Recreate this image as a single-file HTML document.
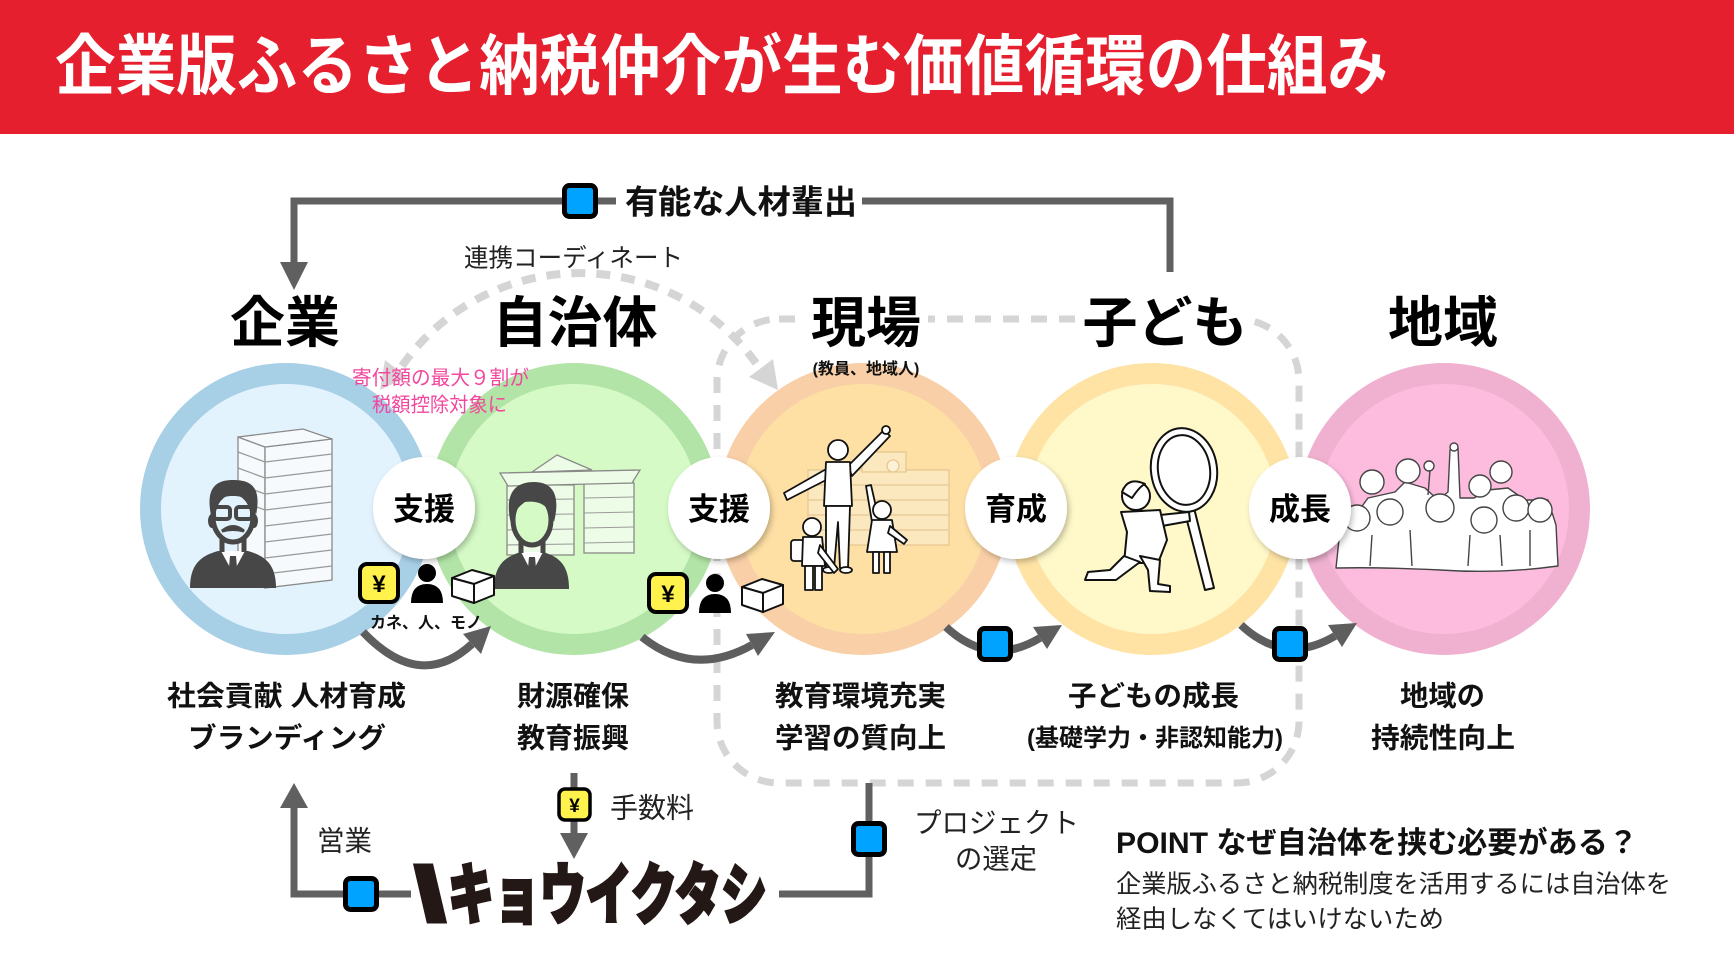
<!DOCTYPE html>
<html><head><meta charset="utf-8">
<style>
html,body{margin:0;padding:0;background:#fff;}
svg{display:block}
text{font-family:"Liberation Sans","Noto Sans CJK JP",sans-serif;}
</style></head><body>
<svg width="1734" height="972" viewBox="0 0 1734 972" xmlns="http://www.w3.org/2000/svg">
<defs>
<filter id="sh" x="-30%" y="-30%" width="160%" height="160%"><feDropShadow dx="2" dy="3" stdDeviation="3" flood-color="#000" flood-opacity="0.25"/></filter>
</defs>
<rect width="1734" height="972" fill="#fff"/>
<!-- header -->
<rect width="1734" height="134" fill="#E61F2E"/>
<text x="55" y="89" font-size="66" font-weight="700" fill="#fff" textLength="1333" lengthAdjust="spacingAndGlyphs">企業版ふるさと納税仲介が生む価値循環の仕組み</text>

<!-- dashed rounded rect -->
<rect x="717" y="319" width="582" height="464" rx="62" fill="none" stroke="#D5D5D5" stroke-width="7" stroke-dasharray="16 12"/>
<!-- dashed arc -->
<path d="M 402 366 A 217 217 0 0 1 758 366" fill="none" stroke="#D5D5D5" stroke-width="8" stroke-dasharray="14 11"/>
<polygon points="778,390 749,377 773,359" fill="#D5D5D5"/>
<polygon points="380,390 407,377 385,360" fill="#D5D5D5"/>

<!-- top connector -->
<path d="M 1170 272 V 201 H 294 V 264" fill="none" stroke="#606060" stroke-width="7"/>
<polygon points="280,262 308,262 294,290" fill="#606060"/>
<rect x="616" y="180" width="246" height="44" fill="#fff"/>
<rect x="564.5" y="185.5" width="31" height="31" rx="5" fill="#00A3FF" stroke="#000" stroke-width="5"/>
<text x="625" y="213.5" font-size="33" font-weight="700" fill="#111" textLength="232" lengthAdjust="spacingAndGlyphs">有能な人材輩出</text>
<text x="464" y="266.5" font-size="25" fill="#222" textLength="219" lengthAdjust="spacingAndGlyphs">連携コーディネート</text>

<!-- titles with white bg -->
<rect x="805" y="290" width="123" height="62" fill="#fff"/>
<rect x="1079" y="290" width="173" height="62" fill="#fff"/>
<text x="285" y="342" font-size="55" font-weight="700" fill="#000" text-anchor="middle">企業</text>
<text x="575" y="342" font-size="55" font-weight="700" fill="#000" text-anchor="middle">自治体</text>
<text x="866" y="342" font-size="55" font-weight="700" fill="#000" text-anchor="middle">現場</text>
<text x="1165" y="342" font-size="55" font-weight="700" fill="#000" text-anchor="middle">子ども</text>
<text x="1443" y="342" font-size="55" font-weight="700" fill="#000" text-anchor="middle">地域</text>

<!-- circles -->
<circle cx="286" cy="509" r="146" fill="#A7CFE6"/><circle cx="286" cy="509" r="125" fill="#E3F3FD"/>
<circle cx="574" cy="509" r="146" fill="#B1E4A6"/><circle cx="574" cy="509" r="125" fill="#D5FAC6"/>
<circle cx="863" cy="509" r="146" fill="#F9CFA7"/><circle cx="863" cy="509" r="125" fill="#FEDFA4"/>
<circle cx="1152" cy="509" r="146" fill="#FEE3A5"/><circle cx="1152" cy="509" r="125" fill="#FFF8C9"/>
<circle cx="1444" cy="509" r="146" fill="#EFB1CF"/><circle cx="1444" cy="509" r="125" fill="#FDBCDE"/>

<text x="866" y="374" font-size="16" font-weight="700" fill="#111" text-anchor="middle">(教員、地域人)</text>

<!-- blue: building + man -->
<g stroke="#8a8a8a" stroke-width="1.3" fill="#F7FAFC">
<polygon points="238,437 265,447 265,588 238,578"/>
<polygon points="265,447 332,439 332,580 265,588"/>
<polygon points="238,437 303,429 332,439 265,447"/>
</g>
<g stroke="#999" stroke-width="1.2">
<line x1="265" y1="462" x2="332" y2="454"/><line x1="265" y1="478" x2="332" y2="470"/>
<line x1="265" y1="494" x2="332" y2="486"/><line x1="265" y1="510" x2="332" y2="502"/>
<line x1="265" y1="526" x2="332" y2="518"/><line x1="265" y1="542" x2="332" y2="534"/>
<line x1="265" y1="558" x2="332" y2="550"/><line x1="265" y1="574" x2="332" y2="566"/>
<line x1="238" y1="452" x2="265" y2="462"/><line x1="238" y1="468" x2="265" y2="478"/>
<line x1="238" y1="484" x2="265" y2="494"/><line x1="238" y1="500" x2="265" y2="510"/>
</g>
<g>
<path d="M190 588 C190 565 200 556 218 551 L248 551 C266 556 276 565 276 588 Z" fill="#474747"/>
<polygon points="221,551 233,573 245,551" fill="#fff"/>
<polygon points="230,556 236,556 238,579 233,586 228,579" fill="#474747"/>
<path d="M222 536 L222 552 M244 536 L244 552" stroke="#474747" stroke-width="5"/>
<ellipse cx="212" cy="521" rx="4" ry="7" fill="#474747"/><ellipse cx="254" cy="521" rx="4" ry="7" fill="#474747"/>
<ellipse cx="233" cy="517" rx="20" ry="25" fill="#E3F3FD" stroke="#474747" stroke-width="5"/>
<path d="M211 515 C205 486 218 480 233 480 C250 480 262 486 256 515 C252 500 245 496 233 496 C221 496 214 500 211 515 Z" fill="#474747"/>
<rect x="214" y="507" width="16" height="12" rx="3" fill="none" stroke="#474747" stroke-width="4"/>
<rect x="236" y="507" width="16" height="12" rx="3" fill="none" stroke="#474747" stroke-width="4"/>
<path d="M222 531 Q233 522 244 531 Q233 528 222 531 Z" fill="#474747" stroke="#474747" stroke-width="3"/>
</g>

<!-- green: building + man -->
<g stroke="#8a8a8a" stroke-width="1.3" fill="#EDFCE6">
<rect x="507" y="485" width="67" height="70"/>
<rect x="584" y="483" width="50" height="70"/>
<polygon points="500,473 640,470 632,483 508,486"/>
<polygon points="532,472 557,455 592,470"/>
</g>
<g stroke="#9a9a9a" stroke-width="1.1">
<line x1="507" y1="500" x2="574" y2="499"/><line x1="507" y1="515" x2="574" y2="514"/><line x1="507" y1="530" x2="574" y2="529"/><line x1="507" y1="545" x2="574" y2="544"/>
<line x1="584" y1="498" x2="634" y2="497"/><line x1="584" y1="513" x2="634" y2="512"/><line x1="584" y1="528" x2="634" y2="527"/><line x1="584" y1="543" x2="634" y2="542"/>
</g>
<g>
<path d="M494 589 C494 566 504 557 521 552 L543 552 C560 557 569 566 569 589 Z" fill="#474747"/>
<polygon points="521,552 532,573 543,552" fill="#fff"/>
<polygon points="529,557 535,557 537,579 532,586 527,579" fill="#474747"/>
<path d="M521 538 L521 553 M543 538 L543 553" stroke="#474747" stroke-width="5"/>
<ellipse cx="532" cy="520" rx="19" ry="25" fill="#D5FAC6" stroke="#474747" stroke-width="5"/>
<path d="M511 524 C503 490 518 482 534 482 C552 482 561 494 554 522 C550 506 540 500 525 502 C518 507 513 513 511 524 Z" fill="#474747"/>
</g>

<!-- orange: school + people -->
<g stroke="#E6C890" stroke-width="1.3" fill="#FCE8BF">
<rect x="808" y="470" width="141" height="75"/>
<rect x="862" y="452" width="44" height="20"/>
<circle cx="893" cy="466" r="6" fill="#FDF1D8"/>
<line x1="808" y1="485" x2="949" y2="485"/><line x1="808" y1="500" x2="949" y2="500"/>
<line x1="808" y1="515" x2="949" y2="515"/><line x1="808" y1="530" x2="949" y2="530"/>
</g>
<g fill="#fff" stroke="#111" stroke-width="1.8" stroke-linejoin="round">
<polygon points="848,466 884,430 890,436 852,476"/>
<polygon points="828,468 784,493 787,500 830,478"/>
<polygon points="826,462 850,462 852,506 824,506"/>
<polygon points="826,506 850,506 848,568 840,568 838,522 834,568 826,568"/>
<ellipse cx="829" cy="570" rx="6" ry="3"/><ellipse cx="846" cy="570" rx="6" ry="3"/>
<circle cx="838" cy="450" r="10"/>
<circle cx="886" cy="430" r="4"/>
<rect x="791" y="540" width="13" height="21" rx="3"/>
<polygon points="803,537 822,537 825,566 802,566"/>
<polygon points="820,545 838,569 834,573 818,553"/>
<polygon points="805,566 813,566 813,590 805,590"/><polygon points="815,566 822,566 822,590 815,590"/>
<circle cx="812" cy="527" r="9"/>
<polygon points="872,522 866,486 871,485 879,520"/>
<polygon points="872,520 892,520 897,552 867,552"/>
<polygon points="890,526 907,540 904,544 888,533"/>
<polygon points="873,552 879,552 879,573 873,573"/><polygon points="884,552 890,552 890,573 884,573"/>
<circle cx="882" cy="510" r="9"/>
</g>

<!-- yellow: kid + magnifier -->
<g fill="#fff" stroke="#111" stroke-width="2" stroke-linejoin="round">
<polygon points="1184,509 1194,508 1214,588 1205,590"/>
<ellipse cx="1184" cy="470" rx="33" ry="42" transform="rotate(-8 1184 470)"/>
<ellipse cx="1184" cy="470" rx="26" ry="35" transform="rotate(-8 1184 470)"/>
<polygon points="1160,515 1189,512 1190,521 1162,526"/>
<polygon points="1121,512 1160,510 1167,540 1158,563 1124,563 1127,532"/>
<polygon points="1124,556 1110,570 1088,572 1085,580 1116,580 1140,562"/>
<polygon points="1140,556 1160,560 1158,584 1170,586 1170,592 1150,591 1148,570"/>
<circle cx="1136" cy="496" r="14"/>
<path d="M1122 492 Q1128 476 1145 484 Q1140 486 1132 498 Z" fill="#fff"/>
</g>

<!-- pink: crowd -->
<g fill="#fff" stroke="#444" stroke-width="1.4" stroke-linejoin="round">
<path d="M1336 568 L1340 530 L1352 520 L1368 498 L1395 492 L1405 482 L1425 488 L1438 500 L1448 492 L1450 450 L1458 448 L1460 498 L1474 498 L1488 490 L1508 488 L1525 500 L1548 500 L1556 525 L1558 566 Q1500 574 1440 570 Q1380 567 1336 568 Z"/>
<circle cx="1372" cy="482" r="12"/><circle cx="1408" cy="471" r="12"/>
<circle cx="1480" cy="486" r="11"/><circle cx="1501" cy="472" r="11"/>
<circle cx="1357" cy="518" r="13"/><circle cx="1390" cy="512" r="13"/>
<circle cx="1440" cy="508" r="14"/><circle cx="1484" cy="520" r="13"/>
<circle cx="1516" cy="508" r="13"/><circle cx="1540" cy="510" r="12"/>
<circle cx="1454" cy="447" r="4"/><circle cx="1429" cy="466" r="5"/>
<path d="M1430 470 L1428 495 M1372 535 L1370 566 M1410 530 L1412 566 M1470 535 L1468 566 M1500 535 L1502 566 M1530 530 L1530 566" fill="none"/>
</g>

<!-- white circles -->
<g filter="url(#sh)" fill="#fff">
<circle cx="424" cy="508" r="51"/><circle cx="719" cy="508" r="51"/>
<circle cx="1016" cy="508" r="51"/><circle cx="1300" cy="508" r="51"/>
</g>
<g font-size="31" font-weight="700" fill="#000" text-anchor="middle">
<text x="424" y="520">支援</text><text x="719" y="520">支援</text>
<text x="1016" y="520">育成</text><text x="1300" y="520">成長</text>
</g>

<!-- pink text -->
<text x="352" y="384.6" font-size="20" fill="#F2479E" textLength="177" lengthAdjust="spacingAndGlyphs">寄付額の最大９割が</text>
<text x="372" y="411.6" font-size="20" fill="#F2479E" textLength="135" lengthAdjust="spacingAndGlyphs">税額控除対象に</text>

<!-- curved arrows -->
<g fill="none" stroke="#5E5E5E" stroke-width="8">
<path d="M 363 632 Q 420 692 472 644"/>
<path d="M 642 637 Q 693 678 752 645"/>
<path d="M 946 627 Q 990 668 1040 638"/>
<path d="M 1241 625 Q 1285 666 1335 636"/>
</g>
<g fill="#5E5E5E">
<polygon points="491,626 481,654 463,634"/>
<polygon points="775,632 758,656 746,634"/>
<polygon points="1062,625 1047,649 1033,627"/>
<polygon points="1357,623 1342,647 1328,625"/>
</g>
<rect x="979.5" y="628.5" width="31" height="31" rx="5" fill="#00A3FF" stroke="#000" stroke-width="5"/>
<rect x="1274.5" y="628.5" width="31" height="31" rx="5" fill="#00A3FF" stroke="#000" stroke-width="5"/>

<!-- icons row 1 -->
<rect x="360" y="564" width="38" height="38" rx="7" fill="#FFF24D" stroke="#000" stroke-width="4"/>
<text x="379" y="592" font-size="24" font-weight="700" text-anchor="middle" fill="#000">¥</text>
<circle cx="427" cy="573" r="9" fill="#000"/>
<path d="M411 603 Q411 584 427 584 Q443 584 443 603 Z" fill="#000"/>
<g fill="#fff" stroke="#111" stroke-width="2" stroke-linejoin="round">
<polygon points="452,578 472,570 494,576 474,584"/>
<polygon points="452,578 474,584 474,603 452,596"/>
<polygon points="474,584 494,576 494,595 474,603"/>
</g>
<text x="370" y="628" font-size="16" font-weight="700" fill="#111" textLength="112" lengthAdjust="spacingAndGlyphs">カネ、人、モノ</text>
<!-- icons row 2 -->
<rect x="649" y="574" width="38" height="38" rx="7" fill="#FFF24D" stroke="#000" stroke-width="4"/>
<text x="668" y="602" font-size="24" font-weight="700" text-anchor="middle" fill="#000">¥</text>
<circle cx="715" cy="583" r="9" fill="#000"/>
<path d="M699 613 Q699 594 715 594 Q731 594 731 613 Z" fill="#000"/>
<g fill="#fff" stroke="#111" stroke-width="2" stroke-linejoin="round">
<polygon points="742,587 762,579 783,585 763,593"/>
<polygon points="742,587 763,593 763,612 742,605"/>
<polygon points="763,593 783,585 783,604 763,612"/>
</g>

<!-- bottom labels -->
<g font-size="28" font-weight="700" fill="#111">
<text x="167" y="705.6" textLength="239" lengthAdjust="spacingAndGlyphs">社会貢献 人材育成</text>
<text x="188" y="747.6" textLength="198" lengthAdjust="spacingAndGlyphs">ブランディング</text>
<text x="517" y="705.6" textLength="112" lengthAdjust="spacingAndGlyphs">財源確保</text>
<text x="517" y="747.6" textLength="112" lengthAdjust="spacingAndGlyphs">教育振興</text>
<text x="775" y="705.6" textLength="171" lengthAdjust="spacingAndGlyphs">教育環境充実</text>
<text x="775" y="747.6" textLength="171" lengthAdjust="spacingAndGlyphs">学習の質向上</text>
<text x="1068" y="705.6" textLength="171" lengthAdjust="spacingAndGlyphs">子どもの成長</text>
<text x="1400" y="705.6" textLength="85" lengthAdjust="spacingAndGlyphs">地域の</text>
<text x="1371" y="747.6" textLength="144" lengthAdjust="spacingAndGlyphs">持続性向上</text>
</g>
<text x="1027" y="746" font-size="24" font-weight="700" fill="#111" textLength="256" lengthAdjust="spacingAndGlyphs">(基礎学力・非認知能力)</text>

<!-- bottom connectors -->
<path d="M 411 894 H 294 V 806" fill="none" stroke="#606060" stroke-width="7"/>
<polygon points="280,808 308,808 294,783" fill="#606060"/>
<rect x="345.5" y="878.5" width="31" height="31" rx="5" fill="#00A3FF" stroke="#000" stroke-width="5"/>
<text x="317" y="850.6" font-size="28" fill="#222" textLength="55" lengthAdjust="spacingAndGlyphs">営業</text>

<path d="M 574 773 V 835" fill="none" stroke="#606060" stroke-width="7"/>
<polygon points="560,833 588,833 574,859" fill="#606060"/>
<rect x="559" y="789" width="31" height="31" rx="6" fill="#FFF24D" stroke="#000" stroke-width="3.5"/>
<text x="574.5" y="812" font-size="19" font-weight="700" text-anchor="middle" fill="#000">¥</text>
<text x="610" y="817.6" font-size="28" fill="#222" textLength="84" lengthAdjust="spacingAndGlyphs">手数料</text>

<path d="M 869 783 V 894 H 779" fill="none" stroke="#606060" stroke-width="7"/>
<rect x="853.5" y="823.5" width="31" height="31" rx="5" fill="#00A3FF" stroke="#000" stroke-width="5"/>
<text x="914" y="832.6" font-size="28" fill="#222" textLength="165" lengthAdjust="spacingAndGlyphs">プロジェクト</text>
<text x="955" y="868.6" font-size="28" fill="#222" textLength="82" lengthAdjust="spacingAndGlyphs">の選定</text>

<!-- logo -->
<text x="418" y="918" font-size="70" font-weight="900" fill="#231815" stroke="#231815" stroke-width="8" textLength="24" lengthAdjust="spacingAndGlyphs">\</text>
<text x="448" y="918" font-size="66" font-weight="900" fill="#231815" stroke="#231815" stroke-width="3" textLength="319" lengthAdjust="spacingAndGlyphs">キョウイクタシ</text>

<!-- POINT -->
<text x="1116" y="853" font-size="30" font-weight="700" fill="#111" textLength="522" lengthAdjust="spacingAndGlyphs">POINT なぜ自治体を挟む必要がある？</text>
<text x="1116" y="892.5" font-size="25" fill="#222" textLength="555" lengthAdjust="spacingAndGlyphs">企業版ふるさと納税制度を活用するには自治体を</text>
<text x="1116" y="927.5" font-size="25" fill="#222" textLength="328" lengthAdjust="spacingAndGlyphs">経由しなくてはいけないため</text>
</svg>
</body></html>
